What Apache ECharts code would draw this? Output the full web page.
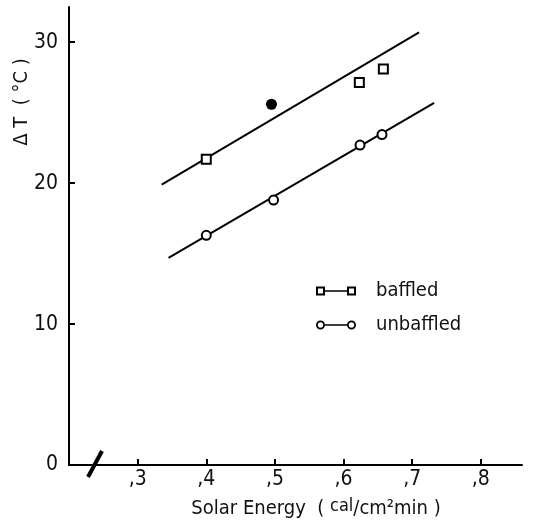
<!DOCTYPE html>
<html>
<head>
<meta charset="utf-8">
<script src="https://cdn.jsdelivr.net/npm/echarts@6/dist/echarts.min.js"></script>
<style>
  html, body { margin: 0; padding: 0; background: #fff; }
  #main { width: 534px; height: 530px; }
</style>
</head>
<body>
<div id="main"></div>
<script>
// measured points (solar energy cal/cm2min, delta T degC)
var baffledX = [0.40, 0.623, 0.658];
var baffledY = [21.7, 27.15, 28.1];
var unbaffledX = [0.40, 0.498, 0.624, 0.656];
var unbaffledY = [16.3, 18.8, 22.7, 23.45];
var outlierX = [0.495];
var outlierY = [25.6];
// fitted lines, two ends each
var baffledFitX = [0.335, 0.71];
var baffledFitY = [19.9, 30.7];
var unbaffledFitX = [0.345, 0.732];
var unbaffledFitY = [14.7, 25.7];
var yTicks = [0, 10, 20, 30];
var xTicks = [0.3, 0.4, 0.5, 0.6, 0.7, 0.8];

var FONT = "'Liberation Sans Narrow', 'DejaVu Sans Condensed', sans-serif";

function pairs(xs, ys) {
    return xs.map(function (x, i) { return [x, ys[i]] })
}

// legend icons: hollow marker - line - hollow marker
var rectIcon = 'path://M0,0H9V9H0Z M2,2V7H7V2Z M9,3.8H31V5.2H9Z M31,0H40V9H31Z M33,2V7H38V2Z'
var circleIcon = 'path://M0,4.5A4.5,4.5 0 1,1 9,4.5A4.5,4.5 0 1,1 0,4.5Z M1.8,4.5A2.7,2.7 0 1,0 7.2,4.5A2.7,2.7 0 1,0 1.8,4.5Z'
    + ' M9,3.8H31V5.2H9Z'
    + ' M31,4.5A4.5,4.5 0 1,1 40,4.5A4.5,4.5 0 1,1 31,4.5Z M32.8,4.5A2.7,2.7 0 1,0 38.2,4.5A2.7,2.7 0 1,0 32.8,4.5Z'

var myChart = echarts.init(document.getElementById('main'))
myChart.setOption({
    animation: false,
    backgroundColor: '#fff',
    grid: { left: 69, right: 12, top: 7, bottom: 65 },
    xAxis: {
        type: 'value',
        min: 0.2,
        max: 0.86,
        interval: 0.1,
        splitLine: { show: false },
        axisLine: { lineStyle: { color: '#000', width: 2 } },
        axisTick: { inside: true, length: 6, lineStyle: { color: '#000', width: 2 } },
        axisLabel: {
            color: '#111',
            fontFamily: FONT,
            fontSize: 21,
            margin: 4,
            showMaxLabel: false,
            formatter: function (v) {
                var t = Math.round(v * 10) / 10
                if (xTicks.indexOf(t) < 0) return ''
                return ',' + Math.round(v * 10)
            }
        }
    },
    yAxis: {
        type: 'value',
        min: 0,
        max: 32.5,
        interval: 10,
        splitLine: { show: false },
        axisLine: { lineStyle: { color: '#000', width: 2 } },
        axisTick: { inside: true, length: 6, lineStyle: { color: '#000', width: 2 } },
        axisLabel: {
            color: '#111',
            fontFamily: FONT,
            fontSize: 21,
            margin: 11,
            showMaxLabel: false,
            formatter: function (v) {
                return yTicks.indexOf(v) < 0 ? '' : String(v)
            }
        }
    },
    legend: {
        orient: 'vertical',
        left: 311,
        top: 276,
        itemWidth: 40,
        itemHeight: 9,
        itemGap: 14,
        itemStyle: { color: '#000', borderWidth: 0, opacity: 1 },
        textStyle: { color: '#111', fontFamily: FONT, fontSize: 20, padding: [0, 0, 0, 15] },
        data: [
            { name: 'baffled', icon: rectIcon },
            { name: 'unbaffled', icon: circleIcon }
        ]
    },
    series: [
        {
            name: 'baffled fit',
            type: 'line',
            data: pairs(baffledFitX, baffledFitY),
            showSymbol: false,
            lineStyle: { color: '#000', width: 2 },
            z: 1
        },
        {
            name: 'unbaffled fit',
            type: 'line',
            data: pairs(unbaffledFitX, unbaffledFitY),
            showSymbol: false,
            lineStyle: { color: '#000', width: 2 },
            z: 1
        },
        {
            name: 'baffled',
            type: 'scatter',
            data: pairs(baffledX, baffledY),
            symbol: 'rect',
            symbolSize: 9,
            itemStyle: { color: '#fff', borderColor: '#000', borderWidth: 2, opacity: 1 },
            z: 3
        },
        {
            name: 'unbaffled',
            type: 'scatter',
            data: pairs(unbaffledX, unbaffledY),
            symbol: 'circle',
            symbolSize: 9,
            itemStyle: { color: '#fff', borderColor: '#000', borderWidth: 2, opacity: 1 },
            z: 3
        },
        {
            name: 'outlier',
            type: 'scatter',
            data: pairs(outlierX, outlierY),
            symbol: 'circle',
            symbolSize: 11,
            itemStyle: { color: '#000', opacity: 1 },
            z: 3
        }
    ],
    graphic: [
        {
            // axis break mark
            type: 'line',
            shape: { x1: 88, y1: 477, x2: 102, y2: 451 },
            style: { stroke: '#000', lineWidth: 4 },
            z: 10
        },
        {
            type: 'text',
            x: 22,
            y: 102,
            rotation: Math.PI / 2,
            style: {
                text: 'Δ T  ( °C )',
                font: '20px ' + FONT,
                fill: '#111',
                align: 'center',
                verticalAlign: 'middle'
            }
        },
        {
            type: 'text',
            x: 316,
            y: 509,
            style: {
                text: 'Solar Energy  ( {sup|cal}/cm²min )',
                font: '20px ' + FONT,
                fill: '#111',
                align: 'center',
                verticalAlign: 'middle',
                rich: {
                    sup: { fontFamily: FONT, fontSize: 18, fill: '#111', verticalAlign: 'top', padding: [0, 0, 6, 0] }
                }
            }
        }
    ]
})
</script>
</body>
</html>
